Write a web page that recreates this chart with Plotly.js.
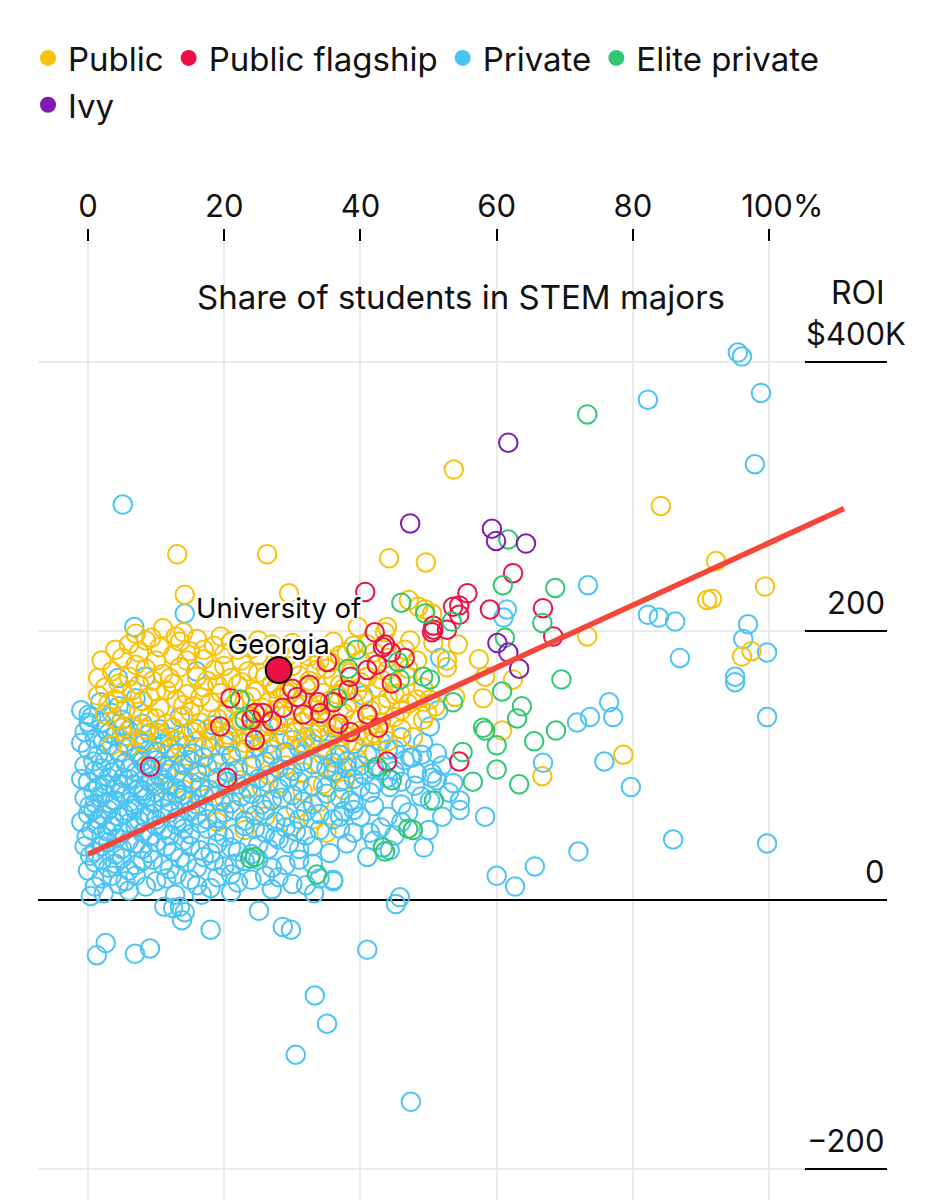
<!DOCTYPE html>
<html>
<head>
<meta charset="utf-8">
<script src="https://cdn.plot.ly/plotly-3.0.1.min.js"></script>
<style>
  html, body { margin: 0; padding: 0; background: #fff; }
  #chart { width: 934px; height: 1200px; }
</style>
</head>
<body>
<div id="chart"></div>
<script>
// share of STEM students (%) vs ROI ($K)
const publicPts = [
  [53.7,320],[84.1,293],[44.2,254],[49.6,251],[92.2,252],[99.4,233],[90.9,223],[91.6,224],[47.1,223],[48.5,218],
  [49.5,216],[96.0,181],[97.4,185],[73.3,196],[62.4,164],[58.0,150],[60.8,126],[78.6,108],[66.7,92],[13.1,257],
  [26.3,257],[14.2,227],[29.5,228],[43.6,199],[39.6,203],[9.3,195],[12.9,196],[43.9,203],[50.5,213],[48.3,149],
  [49.2,134],[47.7,121],[37.7,89],[49.2,158],[46.8,166],[48.3,178],[36.3,106],[35.0,50],[47.3,193],[50.7,191],
  [52.7,178],[45.8,154],[51.0,144],[54.3,190],[57.4,179],[52.7,173],[50.2,149],[49.8,139],[53.9,151],[43.6,124],
  [58.3,166],
  [6,190],[8.5,193],[10.5,188],[13.5,192],[16,194],[18.5,189],[21,192],[24,187],[27,190],[33,188],[36,192],[39,189],
  [5,180],[7.5,184],[10,178],[12.5,182],[15,185],[17,179],[20,183],[22.5,178],[25,182],[29,180],[31.5,184],[34,178],
  [37,182],[40,178],[42,184],
  [3.5,170],[6,166],[8.5,172],[11,168],[13.5,173],[16,166],[18.5,171],[21,165],[23.5,170],[26,166],[28.5,172],
  [31,167],[33.5,171],[36,165],[38.5,169],[41,166],[44,171],
  [2.5,158],[5,154],[7.5,160],[10,155],[12.5,161],[14.5,153],[17,158],[19.5,154],[22,160],[24.5,155],[27,161],
  [29.5,153],[32,158],[34.5,154],[37,160],[39.5,155],[42.5,158],[45,153],
  [3,146],[5.5,142],[8,148],[10.5,143],[13,149],[15.5,144],[18,147],[20.5,141],[23,148],[25.5,143],[28,150],
  [30.5,145],[33,141],[35.5,148],[38,143],[40.5,149],[43,145],[46,141],
  [4,134],[6.5,130],[9,136],[11.5,131],[14,137],[16.5,132],[19,135],[21.5,129],[24,136],[26.5,131],[29,137],
  [31.5,132],[34,136],[36.5,129],[39,134],[41.5,130],[45,136],
  [5.5,122],[8,118],[10.5,124],[13,119],[15.5,125],[18,120],[20.5,123],[23,117],[25.5,124],[28,119],[30.5,125],
  [33,120],[35.5,123],[38,117],[40.5,122],[44,118],
  [7,110],[9.5,106],[12,112],[14.5,107],[17,113],[19.5,108],[22,111],[24.5,105],[27,112],[29.5,107],[32,113],
  [34.5,108],[37,111],[39.5,105],[42,109],
  [9,98],[11.5,94],[14,100],[16.5,95],[19,101],[21.5,96],[24,99],[26.5,93],[29,100],[31.5,95],[34,101],[36.5,96],[39,99],
  [11,86],[14,82],[16.5,88],[19.5,83],[22.5,89],[25.5,84],[28.5,87],[31.5,81],[34.5,86],[37.5,82],
  [14,74],[17,70],[20,76],[23.5,71],[27,75],[30.5,68],[34,73],
  [19,58],[23,52],[26,62],[30,55],[33,60],
  [2,178],[4,186],[7,198],[11,202],[14,199],[17,186],[19.5,196],[22,186],[25,193],[28,185],[30,191],[32.5,181],
  [35.5,177],[38,184],[41,190],[44,180],[46.5,186],
  [1.5,165],[4.5,161],[7,175],[9.5,163],[12,165],[14.5,178],[17.5,163],[20,174],[22.5,162],[25,169],[27.5,157],
  [30,174],[32.5,163],[35,172],[37.5,157],[40,162],[43,164],[47,172],
  [1.5,152],[4,149],[6.5,156],[9,151],[11.5,156],[14,145],[16.5,151],[19,160],[21.5,146],[24,151],[26.5,147],
  [29,155],[31.5,149],[34,145],[36.5,153],[39,147],[41.5,141],[44,150],[47,146],
  [2.5,138],[5,128],[7.5,140],[10,135],[12.5,128],[15,140],[17.5,127],[20,138],[22.5,133],[25,128],[27.5,141],
  [30,128],[32.5,137],[35,132],[37.5,139],[40,126],[43,132],[46,127],
  [3.5,115],[6,113],[8.5,127],[11,120],[13.5,114],[16,118],[18.5,126],[21,118],[24,121],[26.5,116],[29,122],
  [31.5,117],[34,128],[37,121],[39.5,114],[42,124]
];

const flagshipPts = [
  [62.4,243],[55.7,228],[54.5,219],[54.5,212],[59.0,216],[66.8,217],[50.7,204],[68.3,196],[54.5,103],[43.9,103],
  [40.7,229],[50.7,201],[53.6,218],[42.1,199],[43.6,190],[44.5,184],[43.3,188],[41.0,171],[44.6,161],[42.4,175],
  [35.1,177],[38.5,166],[30.7,151],[33.8,147],[34.1,139],[41.0,138],[42.6,128],[38.5,125],[36.0,147],[31.6,138],
  [28.6,143],[24.5,139],[52.7,201],[50.5,199],[9.1,99],[20.9,150],[19.4,129],[24.0,134],[25.7,139],[20.4,91],
  [24.5,119],[38.2,156],[32.5,160],[36.8,131],[30.0,157],[27.0,133],[46.5,180]
];

const privatePts = [
  [5.1,294],[6.8,203],[14.2,213],[4.4,165],[8.4,166],[15.9,170],
  [95.4,407],[96.0,404],[98.8,377],[82.2,372],[97.9,324],[73.4,234],[61.5,216],[61.0,210],
  [82.2,212],[83.8,210],[86.2,207],[96.9,205],[96.2,194],[99.7,184],[86.9,180],[95.0,166],[95.0,162],[99.7,136],
  [76.5,147],[77.1,136],[71.8,132],[73.7,136],[75.8,103],[79.7,84],[66.8,102],
  [85.9,45],[99.7,42],[72.0,36],[65.6,25],[60.0,18],[62.7,10],[58.3,62],[52.0,62],[54.6,67],[54.6,74],
  [48.9,77],[49.3,39],[50.5,91],[50.5,94],[53.6,87],[47.6,106],[49.0,108],[46.5,104],
  [45.2,-3],[2.6,-32],[1.3,-41],[6.9,-40],[9.1,-36],[11.2,-5],[12.5,-6],[13.5,-5],[14.2,-9],[13.8,-15],
  [18.0,-22],[25.1,-8],[28.6,-20],[29.8,-22],[36.0,14],[41.0,-37],[33.3,-71],[35.1,-92],[30.5,-115],[47.4,-150],
  [51.7,180],[51.4,141],[50.2,129],[49.2,117],[51.2,109],[47.3,106],[51.2,89],[48.3,94],[50.2,74],
  [44.3,84],[41.4,80],[38.5,74],[40.0,62],[41.4,50],[41.0,32],[44.3,37],[36.0,15],[35.5,35],[45.8,2],
  [0.1,138],[0.1,132],[40.4,152],[44.0,112],[38.0,98],
  [-1,141],[0.5,136],[2,132],[3.5,139],[5,134],[8,131],[13.5,136],[18.4,130],[22,133],
  [-0.5,125],[1,120],[2.5,127],[4,122],[6,126],[7.5,119],[9,124],[12,121],[16,127],[20,120],[26,124],[30,119],[34,125],
  [0,112],[1.5,108],[3,115],[4.5,110],[6,114],[7.5,107],[9,112],[11,116],[13,109],[15.4,109],[18,113],[21,107],
  [25,114],[29,110],[33,116],[37,108],
  [-0.5,100],[1,96],[2.5,103],[4,98],[5.5,102],[7,95],[8.5,100],[10,104],[12,97],[14,101],[16,95],[19,102],
  [22,97],[26,103],[30,96],[33,101],[36,95],[40,100],
  [0,88],[1.5,84],[3,91],[4.5,86],[6,90],[7.5,83],[9,88],[10.5,92],[12,85],[14,89],[16.5,84],[19,91],[22,86],
  [25,90],[28,83],[31,88],[35,84],[39,90],[42,86],
  [-0.5,76],[1,72],[2.5,79],[4,74],[5.5,78],[7,71],[8.5,76],[10,80],[12,73],[14,78],[16,71],[18.5,77],[21,72],
  [24,79],[27,74],[30,78],[33,71],[37,76],
  [0,64],[1.5,60],[3,67],[4.5,62],[6,66],[7.5,59],[9,64],[11,68],[13,61],[15,66],[17.5,60],[20,65],[23,59],
  [26,67],[29,62],[32,66],[36,60],
  [0.5,52],[2,48],[3.5,55],[5,50],[7,54],[9,47],[11,52],[13,56],[15,49],[17.5,53],[20,47],[23,55],[26,50],[29,54],[32,48],
  [-0.5,40],[1,36],[3,43],[5,38],[7,42],[9,35],[11.5,40],[14,44],[16.5,37],[19,42],[22,36],[25,41],[28,45],[31,38],
  [1,28],[3,24],[5,31],[7,26],[9.5,30],[12,23],[14.5,28],[17,32],[20,25],[23,29],[27,24],[31,30],
  [2,16],[4.5,12],[7,18],[10,14],[13,19],[16,11],[19,17],[22,13],[26,18],[30,12],[34,16],
  [0.4,3],[2.3,5],[6,7],[12.8,4],[16.7,4],[21,6],[27,8],[33.2,5],
  [1.8,147],[4.5,144],[7,150],
  [0.2,130],[3,124],[5.2,129],[10.5,127],[14,122],[24,128],[28,130],[32,121],[36,128],
  [-1,117],[2.2,118],[5.3,117],[8.2,116],[10,110],[12,113],[14.5,115],[17,106],[20,115],[23,112],[27,108],
  [31,113],[35,112],[39,116],[43,118],[46,121],
  [0.8,103],[2,98],[3.5,95],[6.2,98],[8,103],[9.5,97],[11,100],[13,94],[15,104],[17.5,99],[20.5,95],[24,100],
  [28,98],[31.5,103],[35,98],[38,103],[42,97],[45,96],
  [-1,90],[0.8,81],[2.5,86],[4,83],[5.2,91],[6.8,86],[8.2,81],[9.8,85],[11.2,89],[13,83],[15.2,87],[17.8,82],
  [20.5,88],[23.5,83],[26.5,87],[29.5,91],[33,85],[37,88],[40.5,93],[44,91],
  [0.2,70],[1.8,76],[3.2,72],[4.8,80],[6.2,73],[8,78],[9.6,72],[11,76],[13,79],[15,74],[17,78],[19.5,73],
  [22.5,77],[25.5,71],[28.5,76],[31.5,73],[35,79],[39,72],
  [-1,58],[0.8,67],[2.2,63],[3.8,58],[5.3,64],[6.8,68],[8.3,62],[10,60],[12,65],[14,58],[16,63],[19,61],
  [21.5,67],[24.5,63],[27.5,58],[31,60],[34,64],[37.5,66],
  [-0.2,47],[1.3,56],[2.8,51],[4.2,46],[6,57],[8,50],[10,55],[12,48],[14,53],[16.5,57],[19,51],[21.5,49],
  [24.5,53],[27.5,47],[30.5,51],[34,52],
  [0.3,33],[2,40],[4,34],[6,44],[8,38],[10,43],[12.5,36],[15,40],[18,35],[21,39],[24,34],[26.5,38],[29.5,42],[33,40],
  [0,22],[2,30],[4,27],[6,22],[8,29],[11,26],[13.5,31],[16,24],[18.5,29],[21.5,27],[25,30],[29,26],[33,27],
  [1,10],[3.5,18],[5.5,14],[8.5,10],[11.5,16],[15,15],[18,9],[21,19],[24,15],[28,17],[32,11],
  [37,62],[39,67],[42,70],[44,62],[46,71],[43,54],[47,65],[39,50],[45,48],[38,42],[42,44],[37,53],
  [40,84],[43,96],[46,88],[36,102],[41,108],[45,112],[52,100],[48,85],[53,80],[50,52],[46,58]
];

const elitePts = [
  [73.3,361],[61.7,268],[60.9,234],[68.6,232],[46.0,221],[66.7,206],[53.4,207],[61.2,195],[69.5,164],[68.7,126],
  [65.5,118],[63.3,86],[60.0,97],[60.0,115],[63.7,144],[63.0,135],[60.8,155],[58.0,128],[58.3,126],[50.8,74],
  [47.0,53],[47.7,52],[43.6,36],[56.5,88],[55.0,110],[33.6,19],[39.4,186],[22.3,149],[23.0,134],[23.8,31],
  [38.2,172],[36.6,150],[49.2,166],[45.5,177],[45.8,164],[53.6,147],[42.4,99],[44.6,89],[43.3,39],[24.5,32],
  [50.2,164],[49.5,213]
];

const ivyPts = [
  [61.7,340],[47.3,280],[59.3,276],[59.9,267],[64.3,265],[63.3,172],[61.7,184],[60.1,191]
];

// trend line and the highlighted school
const trendX = [0, 111];
const trendY = [34, 291];
const ugaX = [28.0];
const ugaY = [171];
const ugaLabel = 'University of<br>Georgia';
const ugaLabelY = 203.5;

const categories = ['Public', 'Public flagship', 'Private', 'Elite private', 'Ivy'];
const colors = ['#F7C20A', '#EC1145', '#4BC3F3', '#2FC872', '#7E1CB4'];
const seriesPts = [publicPts, flagshipPts, privatePts, elitePts, ivyPts];

// drawing layers: upper private schools sit under the public ones, lower ones on top
const layers = [
    { series: 2, keep: p => p[1] > 110 },
    { series: 0, keep: p => true },
    { series: 2, keep: p => p[1] <= 110 },
    { series: 1, keep: p => true },
    { series: 3, keep: p => true },
    { series: 4, keep: p => true }
];

const xTickVals = [0, 20, 40, 60, 80, 100];
const xTickText = ['0', '20', '40', '60', '80', '\u00a0\u00a0\u00a0100%'];
const yTickVals = [-200, 0, 200, 400];
const yTickText = ['\u2212200', '0', '200', '$400K'];

const FONT = "Inter, 'Liberation Sans', Arial, sans-serif";

function make_traces() {
    const traces = [];
    for (const layer of layers) {
        const i = layer.series;
        const pts = seriesPts[i].filter(layer.keep);
        traces.push({
            x: pts.map(p => p[0]),
            y: pts.map(p => p[1]),
            type: 'scatter',
            mode: 'markers',
            name: categories[i],
            showlegend: false,
            marker: { symbol: 'circle-open', size: 18.5, color: colors[i], line: { width: 2, color: colors[i] } },
            hoverinfo: 'skip'
        });
    }
    traces.push({
        x: trendX, y: trendY,
        type: 'scatter', mode: 'lines',
        line: { color: '#F4473A', width: 5.5 },
        showlegend: false, hoverinfo: 'skip'
    });
    traces.push({
        x: ugaX, y: ugaY,
        type: 'scatter', mode: 'markers',
        marker: { size: 26, color: '#EC1145', line: { color: '#000', width: 2 } },
        showlegend: false, hoverinfo: 'skip'
    });
    // legend entries, filled dots; the last one goes to a second row
    categories.forEach((c, i) => {
        traces.push({
            x: [null], y: [null],
            type: 'scatter', mode: 'markers',
            name: c,
            marker: { size: 20, color: colors[i] },
            showlegend: true,
            legend: i === categories.length - 1 ? 'legend2' : 'legend'
        });
    });
    return traces;
}

function make_annotations() {
    const halo = '-2px -2px 0 #fff, 2px -2px 0 #fff, -2px 2px 0 #fff, 2px 2px 0 #fff, 0 2px 0 #fff, 0 -2px 0 #fff, 2px 0 0 #fff, -2px 0 0 #fff';
    const ann = [
        {
            text: 'Share of students in STEM majors',
            xref: 'paper', yref: 'paper', x: 0.498, y: 0.9426,
            xanchor: 'center', yanchor: 'middle', showarrow: false,
            font: { size: 33, color: '#111' }
        },
        {
            text: 'ROI',
            xref: 'paper', yref: 'paper', x: 1, y: 0.9478,
            xanchor: 'right', yanchor: 'middle', showarrow: false,
            font: { size: 32, color: '#111' }
        },
        {
            text: ugaLabel,
            xref: 'x', yref: 'y', x: ugaX[0], y: ugaLabelY,
            xanchor: 'center', yanchor: 'middle', showarrow: false,
            font: { size: 27.5, color: '#000', shadow: halo }
        }
    ];
    yTickVals.forEach((v, i) => {
        ann.push({
            text: yTickText[i],
            xref: 'paper', yref: 'y', x: 1, y: v,
            xanchor: 'right', yanchor: 'bottom', showarrow: false,
            xshift: v === 400 ? 21 : 0, yshift: 8,
            font: { size: 31, color: '#111' }
        });
    });
    return ann;
}

function make_shapes() {
    // black ends of the gridlines under the right-hand labels
    return yTickVals.filter(v => v !== 0).map(v => ({
        type: 'line', xref: 'paper', yref: 'y',
        x0: 0.9034, x1: 1, y0: v, y1: v,
        line: { color: '#000', width: 2 }
    }));
}

const legendBase = {
    orientation: 'h', xref: 'container', yref: 'container',
    x: 0.030, xanchor: 'left', yanchor: 'top',
    font: { size: 33, color: '#111' }, bgcolor: 'rgba(0,0,0,0)'
};

const layout = {
    width: 934, height: 1200,
    margin: { l: 38, r: 47, t: 242, b: 0, pad: 0 },
    paper_bgcolor: '#fff', plot_bgcolor: '#fff',
    font: { family: FONT, size: 30, color: '#111' },
    showlegend: true,
    legend: Object.assign({}, legendBase, { y: 0.975 }),
    legend2: Object.assign({}, legendBase, { y: 0.936 }),
    xaxis: {
        range: [-7.34, 117.3], side: 'top',
        tickvals: xTickVals, ticktext: xTickText,
        ticks: 'outside', ticklen: 12, tickwidth: 2, tickcolor: '#000',
        ticklabelstandoff: 0,
        showgrid: true, gridcolor: '#ebebeb', gridwidth: 2,
        zeroline: false, showline: false,
        tickfont: { size: 31, color: '#111' }
    },
    yaxis: {
        range: [-223, 489.2], side: 'right',
        tickvals: yTickVals, showticklabels: false, ticks: '',
        showgrid: true, gridcolor: '#ebebeb', gridwidth: 2,
        zeroline: true, zerolinecolor: '#000', zerolinewidth: 2,
        showline: false
    },
    shapes: make_shapes(),
    annotations: make_annotations()
};

Plotly.newPlot('chart', make_traces(), layout, { displayModeBar: false, staticPlot: true });
</script>
</body>
</html>
